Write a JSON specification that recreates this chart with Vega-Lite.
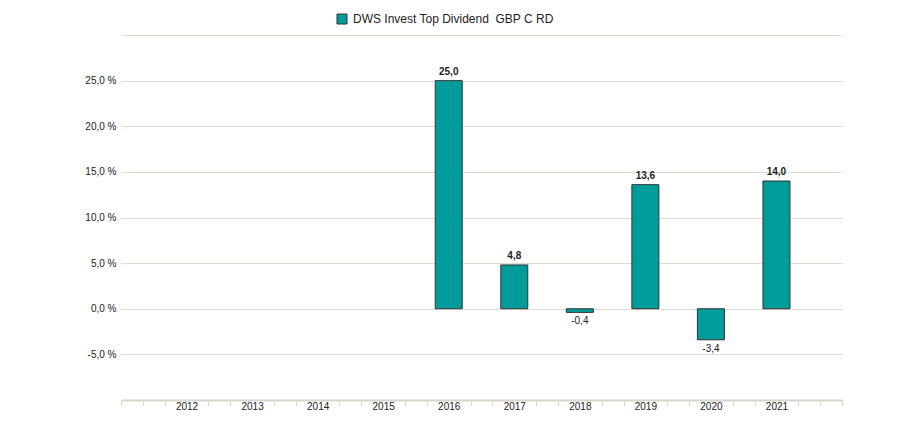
{
  "$schema": "https://vega.github.io/schema/vega-lite/v6.json",
  "width": 721,
  "height": 365,
  "autosize": {"type": "none"},
  "padding": {"left": 121, "top": 35, "right": 57, "bottom": 30},
  "background": "white",
  "config": {
    "font": "Liberation Sans",
    "view": {"stroke": null},
    "locale": {"number": {"decimal": ",", "thousands": ".", "grouping": [3], "currency": ["", " €"], "minus": "-"}}
  },
  "data": {
    "values": [
      {"year": 2016, "value": 25.0, "series": "DWS Invest Top Dividend \u00a0GBP C RD"},
      {"year": 2017, "value": 4.8, "series": "DWS Invest Top Dividend \u00a0GBP C RD"},
      {"year": 2018, "value": -0.4, "series": "DWS Invest Top Dividend \u00a0GBP C RD"},
      {"year": 2019, "value": 13.6, "series": "DWS Invest Top Dividend \u00a0GBP C RD"},
      {"year": 2020, "value": -3.4, "series": "DWS Invest Top Dividend \u00a0GBP C RD"},
      {"year": 2021, "value": 14.0, "series": "DWS Invest Top Dividend \u00a0GBP C RD"}
    ]
  },
  "encoding": {
    "x": {
      "field": "year",
      "type": "quantitative",
      "scale": {"domain": [2011, 2022], "nice": false, "zero": false, "padding": 0},
      "axis": {
        "title": null,
        "grid": false,
        "values": [2011, 2011.3333, 2011.6667, 2012, 2012.3333, 2012.6667, 2013, 2013.3333, 2013.6667, 2014, 2014.3333, 2014.6667, 2015, 2015.3333, 2015.6667, 2016, 2016.3333, 2016.6667, 2017, 2017.3333, 2017.6667, 2018, 2018.3333, 2018.6667, 2019, 2019.3333, 2019.6667, 2020, 2020.3333, 2020.6667, 2021, 2021.3333, 2021.6667, 2022],
        "labelExpr": "(datum.value % 1 == 0 && datum.value > 2011 && datum.value < 2022) ? '' + datum.value : ''",
        "labelOverlap": false,
        "labelFlush": false,
        "labelFontSize": 10,
        "labelColor": "#222222",
        "labelPadding": -4,
        "tickColor": "#d8d5cb",
        "tickSize": 5,
        "tickWidth": 1,
        "tickOpacity": {"condition": {"test": "datum.value % 1 == 0 && datum.value > 2011 && datum.value < 2022", "value": 0}, "value": 1},
        "domainColor": "#d8d5cb",
        "domainWidth": 2
      }
    },
    "y": {
      "field": "value",
      "type": "quantitative",
      "scale": {"domain": [-10, 30], "nice": false},
      "axis": {
        "title": null,
        "values": [-10, -5, 0, 5, 10, 15, 20, 25, 30],
        "format": ".1f",
        "labelExpr": "(datum.value > -10 && datum.value < 30) ? datum.label + ' %' : ''",
        "labelFontSize": 10,
        "labelColor": "#222222",
        "labelPadding": 5,
        "ticks": false,
        "domain": false,
        "gridColor": "#dedbd2",
        "gridWidth": 1,
        "labelOverlap": false
      }
    }
  },
  "layer": [
    {
      "mark": {"type": "bar", "width": 27, "stroke": "#333333", "strokeWidth": 1},
      "encoding": {
        "color": {
          "field": "series",
          "type": "nominal",
          "scale": {"range": ["#009c9c"]},
          "legend": {
            "title": null,
            "orient": "none",
            "legendX": 215,
            "legendY": -22,
            "symbolType": "square",
            "symbolSize": 100,
            "symbolStrokeColor": "#333333",
            "symbolStrokeWidth": 1,
            "labelFontSize": 12,
            "labelColor": "#222222",
            "labelOffset": 5,
            "labelLimit": 500
          }
        }
      }
    },
    {
      "transform": [{"filter": "datum.value >= 0"}],
      "mark": {"type": "text", "baseline": "bottom", "dy": -4, "fontSize": 10, "fontWeight": "bold", "color": "#222222"},
      "encoding": {"text": {"field": "value", "type": "quantitative", "format": ".1f"}}
    },
    {
      "transform": [{"filter": "datum.value < 0"}],
      "mark": {"type": "text", "baseline": "top", "dy": 4, "fontSize": 10, "color": "#222222"},
      "encoding": {"text": {"field": "value", "type": "quantitative", "format": ".1f"}}
    }
  ]
}
